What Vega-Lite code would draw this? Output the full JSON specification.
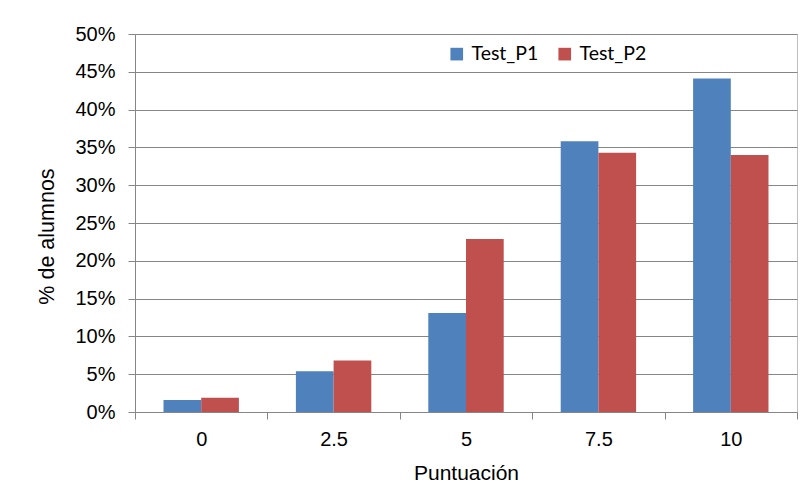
{
  "$schema": "https://vega.github.io/schema/vega-lite/v6.json",
  "width": 662,
  "height": 378,
  "autosize": {"type": "none"},
  "padding": {"left": 135, "top": 34, "right": 6, "bottom": 81},
  "background": "white",
  "config": {
    "view": {"stroke": "#bfbfbf", "strokeWidth": 1},
    "axis": {
      "labelFont": "Liberation Sans",
      "titleFont": "Liberation Sans",
      "labelColor": "#000000",
      "titleColor": "#000000",
      "titleFontWeight": "normal",
      "domainColor": "#868686",
      "tickColor": "#868686",
      "gridColor": "#868686",
      "tickSize": 7
    }
  },
  "data": {
    "values": [
      {"puntuacion": "0", "test": "Test_P1", "pct": 0.016},
      {"puntuacion": "0", "test": "Test_P2", "pct": 0.019},
      {"puntuacion": "2.5", "test": "Test_P1", "pct": 0.054},
      {"puntuacion": "2.5", "test": "Test_P2", "pct": 0.068},
      {"puntuacion": "5", "test": "Test_P1", "pct": 0.131},
      {"puntuacion": "5", "test": "Test_P2", "pct": 0.229},
      {"puntuacion": "7.5", "test": "Test_P1", "pct": 0.358},
      {"puntuacion": "7.5", "test": "Test_P2", "pct": 0.343},
      {"puntuacion": "10", "test": "Test_P1", "pct": 0.441},
      {"puntuacion": "10", "test": "Test_P2", "pct": 0.340}
    ]
  },
  "mark": {"type": "bar", "strokeWidth": 0},
  "encoding": {
    "x": {
      "field": "puntuacion",
      "type": "nominal",
      "sort": ["0", "2.5", "5", "7.5", "10"],
      "scale": {"paddingInner": 0, "paddingOuter": 0},
      "axis": {
        "title": "Puntuación",
        "labelAngle": 0,
        "labelFontSize": 20,
        "titleFontSize": 21,
        "tickBand": "extent",
        "grid": false,
        "labelPadding": 10,
        "titleBaseline": "alphabetic",
        "titleY": 67
      }
    },
    "xOffset": {
      "field": "test",
      "type": "nominal",
      "scale": {"paddingInner": 0, "paddingOuter": 0.756}
    },
    "y": {
      "field": "pct",
      "type": "quantitative",
      "scale": {"domain": [0, 0.5], "nice": false},
      "axis": {
        "title": "% de alumnos",
        "values": [0, 0.05, 0.1, 0.15, 0.2, 0.25, 0.3, 0.35, 0.4, 0.45, 0.5],
        "format": ".0%",
        "labelFontSize": 20,
        "titleFontSize": 21.5,
        "labelPadding": 13,
        "titleBaseline": "alphabetic",
        "titleAlign": "center",
        "titleAngle": -90,
        "titleX": -82,
        "titleY": 202,
        "grid": true
      }
    },
    "color": {
      "field": "test",
      "type": "nominal",
      "scale": {"domain": ["Test_P1", "Test_P2"], "range": ["#4F81BD", "#C0504D"]},
      "legend": {
        "title": null,
        "orient": "none",
        "direction": "horizontal",
        "legendX": 312,
        "legendY": 10,
        "symbolType": "square",
        "symbolSize": 160,
        "symbolStrokeWidth": 0,
        "labelFont": "Lato",
        "labelFontSize": 19.5,
        "labelColor": "#000000",
        "labelOffset": 5,
        "columnPadding": 16,
        "padding": 0
      }
    }
  }
}
